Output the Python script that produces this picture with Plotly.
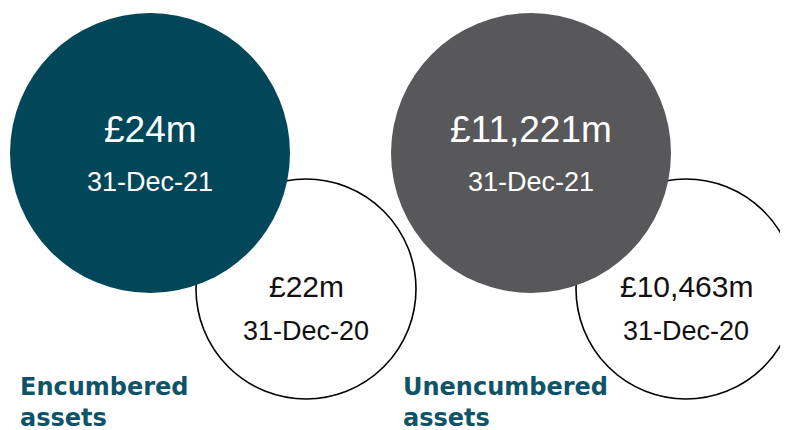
import plotly.graph_objects as go

# ---- data ----
groups = ["Encumbered<br>assets", "Unencumbered<br>assets"]
values_2021 = ["£24m", "£11,221m"]
values_2020 = ["£22m", "£10,463m"]
date_2021 = "31-Dec-21"
date_2020 = "31-Dec-20"

# ---- layout spec (pixel space of the window) ----
big_cx = [150, 531]
big_cy = 153
big_r = 140
small_cx = [306, 686]
small_cy = 289
small_r = 110
label_x = [18, 401]
fills = ["#024759", "#58585A"]

PAGE_MARGIN = 8  # default body margin of the html page

fig = go.Figure()
shapes = []
for i in range(2):
    shapes.append(dict(type="circle", xref="x", yref="y",
                       x0=small_cx[i]-small_r, x1=small_cx[i]+small_r,
                       y0=small_cy-small_r, y1=small_cy+small_r,
                       line=dict(color="#000000", width=1.6),
                       fillcolor="white", layer="below"))
    shapes.append(dict(type="circle", xref="x", yref="y",
                       x0=big_cx[i]-big_r, x1=big_cx[i]+big_r,
                       y0=big_cy-big_r, y1=big_cy+big_r,
                       line=dict(color=fills[i], width=0),
                       fillcolor=fills[i], layer="below"))

ann = []
for i in range(2):
    ann.append(dict(x=big_cx[i], y=129, text=values_2021[i], showarrow=False,
                    font=dict(family="Liberation Sans, Arial", size=37, color="white"),
                    xanchor="center", yanchor="middle"))
    ann.append(dict(x=big_cx[i], y=182, text=date_2021, showarrow=False,
                    font=dict(family="Liberation Sans, Arial", size=27, color="white"),
                    xanchor="center", yanchor="middle"))
    ann.append(dict(x=small_cx[i], y=286, text=values_2020[i], showarrow=False,
                    font=dict(family="Liberation Sans, Arial", size=30, color="#111111"),
                    xanchor="center", yanchor="middle"))
    ann.append(dict(x=small_cx[i], y=331, text=date_2020, showarrow=False,
                    font=dict(family="Liberation Sans, Arial", size=27, color="#111111"),
                    xanchor="center", yanchor="middle"))
    ann.append(dict(x=label_x[i], y=371, text="<b>" + groups[i].replace("<br>", "</b><br><b>") + "</b>",
                    showarrow=False, align="left",
                    font=dict(family="DejaVu Sans", size=24, color="#0E5468"),
                    xanchor="left", yanchor="top"))

fig.add_trace(go.Scatter(x=[PAGE_MARGIN, 788], y=[PAGE_MARGIN, 430], mode="markers",
                         marker=dict(opacity=0), hoverinfo="skip", showlegend=False))

fig.update_layout(
    width=788 - PAGE_MARGIN, height=430 - PAGE_MARGIN,
    margin=dict(l=0, r=0, t=0, b=0, pad=0),
    paper_bgcolor="white", plot_bgcolor="white",
    xaxis=dict(range=[PAGE_MARGIN, 788], visible=False, fixedrange=True),
    yaxis=dict(range=[430, PAGE_MARGIN], visible=False, fixedrange=True),
    shapes=shapes, annotations=ann, showlegend=False,
)
fig.write_html("out.html", config={"displayModeBar": False})
